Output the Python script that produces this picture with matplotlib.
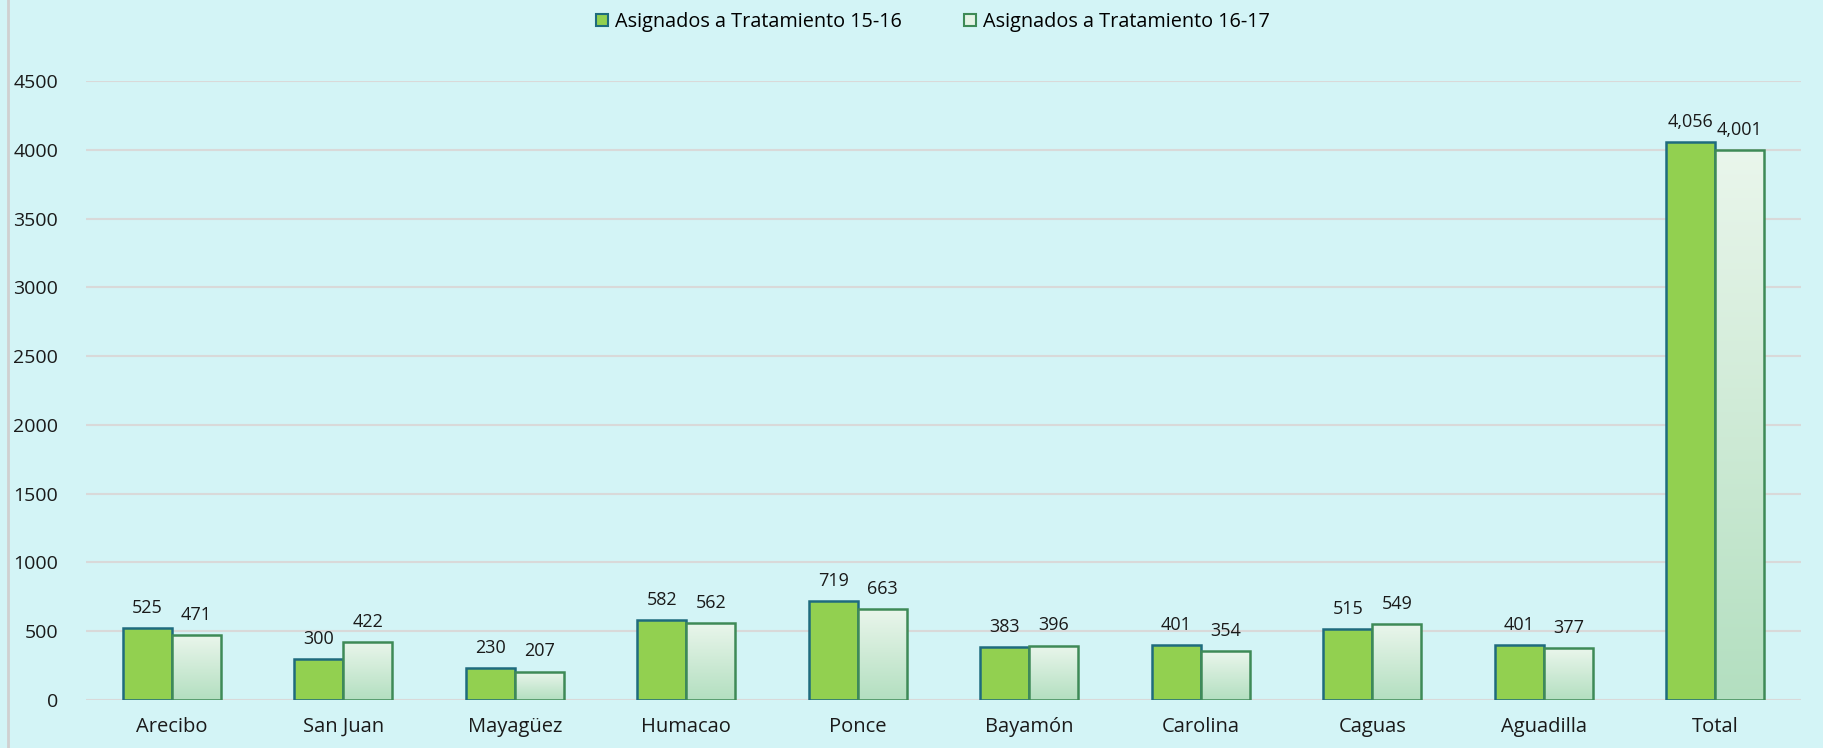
import matplotlib
matplotlib.use("Agg")
import matplotlib.pyplot as plt
import numpy as np
from matplotlib.colors import LinearSegmentedColormap
from matplotlib.patches import Patch

categories = ["Arecibo", "San Juan", "Mayagüez", "Humacao", "Ponce",
              "Bayamón", "Carolina", "Caguas", "Aguadilla", "Total"]
s1516 = [525, 300, 230, 582, 719, 383, 401, 515, 401, 4056]
s1617 = [471, 422, 207, 562, 663, 396, 354, 549, 377, 4001]
labels = ["Asignados a Tratamiento 15-16", "Asignados a Tratamiento 16-17"]
yticks = [0, 500, 1000, 1500, 2000, 2500, 3000, 3500, 4000, 4500]

plt.rcParams['font.family'] = ['Open Sans', 'DejaVu Sans']

BG = "#d3f4f6"
W, H = 1824, 748
fig = plt.figure(figsize=(W / 100, H / 100), dpi=100, facecolor=BG)
ax = fig.add_axes([86 / W, (H - 700) / H, (1801 - 86) / W, (700 - 81) / H])
ax.set_facecolor(BG)

x = np.arange(len(categories))
bw = 0.286
ax.set_xlim(-0.5, len(categories) - 0.5)
ax.set_ylim(0, 4500)

for y in yticks:
    ax.axhline(y, color="#d9d9d9", lw=1.5, zorder=0)

ax.bar(x - bw / 2, s1516, width=bw, color="#92d050", edgecolor="#1f6b7e",
       linewidth=1.8, zorder=3)

cmap = LinearSegmentedColormap.from_list("g", ["#b3dfc0", "#eaf6ec"])
grad = np.linspace(0, 1, 256).reshape(-1, 1)
bars2 = ax.bar(x + bw / 2, s1617, width=bw, color="none", edgecolor="#3e8a57",
               linewidth=1.8, zorder=4)
for b in bars2:
    x0 = b.get_x()
    h = b.get_height()
    im = ax.imshow(grad, cmap=cmap, origin="lower", aspect="auto",
                   extent=(x0, x0 + b.get_width(), 0, h), zorder=3.5)
    im.set_clip_path(b)

for xi, v in zip(x, s1516):
    ax.annotate(f"{v:,}", (xi - bw / 2, v), xytext=(0, 8), textcoords="offset points",
                ha="center", va="bottom", fontsize=13, color="#1a1a1a")
for xi, v in zip(x, s1617):
    ax.annotate(f"{v:,}", (xi + bw / 2, v), xytext=(0, 8), textcoords="offset points",
                ha="center", va="bottom", fontsize=13, color="#1a1a1a")

ax.set_xticks(x)
ax.set_xticklabels(categories, fontsize=14.5, color="#1a1a1a")
ax.set_yticks(yticks)
ax.set_yticklabels([str(t) for t in yticks], fontsize=14, color="#1a1a1a")
ax.tick_params(axis="both", length=0)
ax.tick_params(axis="x", pad=12)
ax.tick_params(axis="y", pad=20)
for s in ax.spines.values():
    s.set_visible(False)

handles = [Patch(facecolor="#92d050", edgecolor="#1f6b7e", linewidth=1.5, label=labels[0]),
           Patch(facecolor="#e4f3e6", edgecolor="#3e8a57", linewidth=1.5, label=labels[1])]
fig.legend(handles=handles, loc="center", bbox_to_anchor=(933 / W, 1 - 22 / H), ncol=2,
           frameon=False, fontsize=14.3, handlelength=0.6, handleheight=0.6,
           handletextpad=0.35, columnspacing=3.1, borderpad=0, borderaxespad=0)

fig.add_artist(plt.Line2D([8 / W, 8 / W], [0, 1], color="#d0d0d0", lw=2,
                          transform=fig.transFigure))

fig.savefig("out.png", dpi=100, facecolor=BG)
